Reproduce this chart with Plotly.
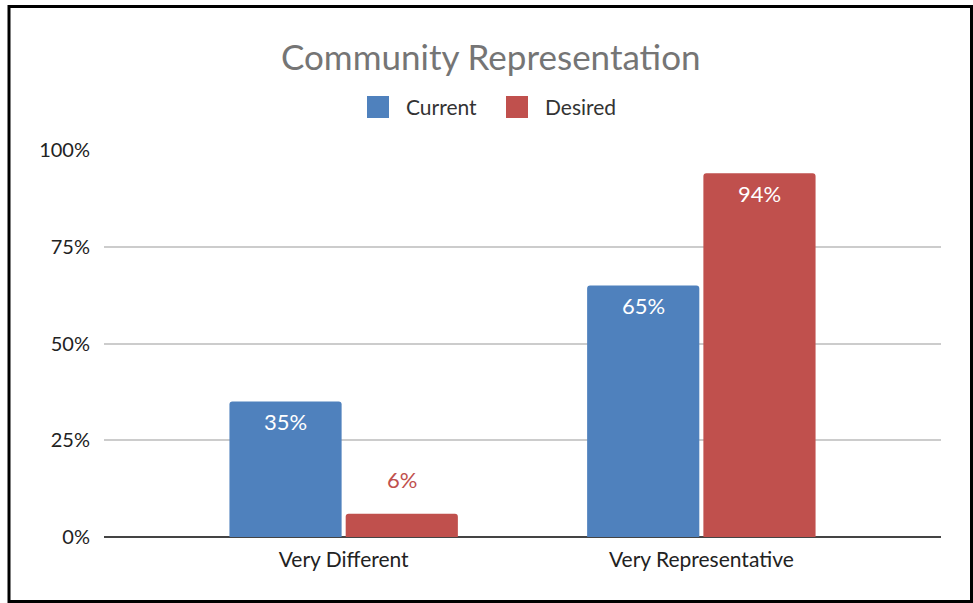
import plotly.graph_objects as go

# Survey results: share of respondents per answer
categories = ["Very Different", "Very Representative"]
current = [0.35, 0.65]
desired = [0.06, 0.94]
series_names = ["Current", "Desired"]
y_ticks = [0, 0.25, 0.5, 0.75, 1.0]
y_tick_labels = ["0%", "25%", "50%", "75%", "100%"]

BLUE = "#4F81BD"
RED = "#C0504D"
FONT = "Lato, 'Open Sans', sans-serif"

W, H = 973, 603
L, R, T, B = 104, 32, 150, 66
plot_w, plot_h = W - L - R, H - T - B
BARGAP = 0.35
SMALL = 0.1  # bars shorter than this get their label above the bar


def px_x(p):
    return (p - L) / plot_w


def px_y(p):
    return (H - B - p) / plot_h


series = [(series_names[0], current, BLUE), (series_names[1], desired, RED)]
slot = (1 - BARGAP) / len(series)

fig = go.Figure()
for k, (name, vals, color) in enumerate(series):
    xs = list(range(len(categories)))
    fig.add_trace(go.Bar(
        name=name,
        x=xs,
        y=vals,
        marker=dict(color=color, line=dict(width=0)),
        showlegend=False,
        hoverinfo="skip",
    ))
    # value labels: white inside the top of the bar, or coloured above short bars
    offset = (k - (len(series) - 1) / 2) * slot
    for i, v in zip(xs, vals):
        inside = v >= SMALL
        fig.add_annotation(
            x=i + offset, y=v,
            text=f"{v:.0%}",
            showarrow=False,
            xanchor="center", yanchor="middle",
            yshift=-20 if inside else 34,
            font=dict(size=22, color="white" if inside else color, family=FONT),
        )

fig.update_layout(
    width=W, height=H,
    margin=dict(l=L, r=R, t=T, b=B, pad=0),
    paper_bgcolor="white",
    plot_bgcolor="white",
    barmode="group",
    bargap=BARGAP,
    bargroupgap=0.035,
    barcornerradius=3,
    showlegend=False,
    font=dict(family=FONT, color="#333333", size=20),
    xaxis=dict(
        tickmode="array",
        tickvals=list(range(len(categories))),
        ticktext=categories,
        range=[-0.67, len(categories) - 1 + 0.67],
        showgrid=False,
        zeroline=False,
        showline=False,
        ticks="",
        tickfont=dict(size=21, color="#222222", family=FONT),
        ticklabelstandoff=8,
    ),
    yaxis=dict(
        range=[0, 1.0],
        tickmode="array",
        tickvals=y_ticks,
        ticktext=y_tick_labels,
        showgrid=True,
        gridcolor="#CCCCCC",
        gridwidth=1.5,
        zeroline=True,
        zerolinecolor="#444444",
        zerolinewidth=2,
        showline=False,
        ticks="",
        tickfont=dict(size=20, color="#222222", family=FONT),
        ticklabelstandoff=13,
    ),
)

# Chart title
fig.add_annotation(
    text="Community Representation",
    xref="paper", yref="paper",
    x=px_x(491), y=px_y(56),
    xanchor="center", yanchor="middle",
    showarrow=False,
    font=dict(size=35, color="#757575", family=FONT),
)

# Legend: colour swatches with series names
legend_items = [(series_names[0], BLUE, 367), (series_names[1], RED, 506)]
for name, color, left in legend_items:
    fig.add_shape(
        type="rect", xref="paper", yref="paper",
        x0=px_x(left), x1=px_x(left + 22),
        y0=px_y(118), y1=px_y(96),
        fillcolor=color, line=dict(width=0),
    )
    fig.add_annotation(
        text=name, xref="paper", yref="paper",
        x=px_x(left + 37), y=px_y(107),
        xanchor="left", yanchor="middle",
        showarrow=False,
        font=dict(size=21, color="#333333", family=FONT),
    )

# Black frame around the chart
fig.add_shape(
    type="rect", xref="paper", yref="paper",
    x0=px_x(9), x1=px_x(971.5),
    y0=px_y(601.5), y1=px_y(6.5),
    line=dict(color="black", width=3),
    fillcolor="rgba(0,0,0,0)",
    layer="above",
)

fig.write_html("out.html")
